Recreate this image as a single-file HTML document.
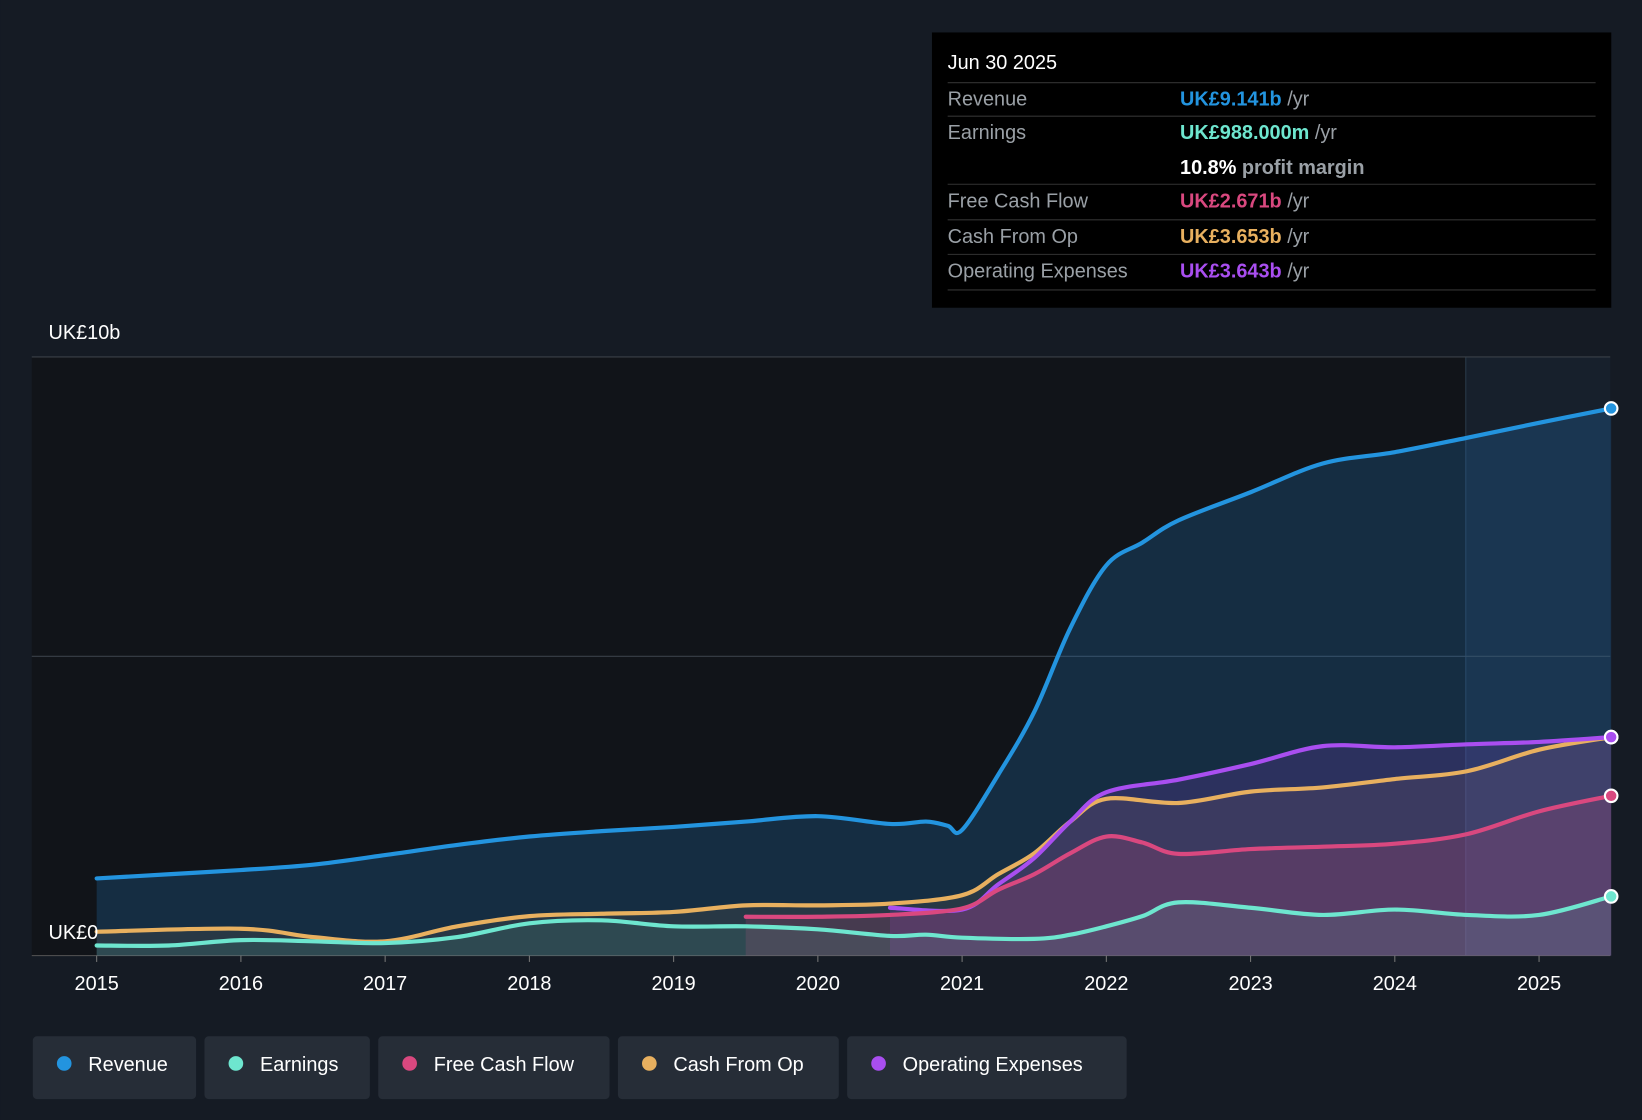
<!DOCTYPE html>
<html><head><meta charset="utf-8"><style>
html,body{margin:0;padding:0;background:#151b24;}
svg{display:block;font-family:"Liberation Sans",Roboto,sans-serif;}
</style></head><body>
<svg id="chart" width="1642" height="1120" viewBox="0 0 1568 1070">
<rect x="0" y="0" width="1568" height="1070" fill="#151b24"/>
<rect x="30" y="341" width="1370" height="572" fill="#111419"/>
<rect x="1400" y="341" width="138" height="572" fill="#17202c"/>
<line x1="1400" y1="341" x2="1400" y2="913" stroke="#2a3a4a" stroke-width="1"/>
<g id="grid"></g>
<g id="areas"></g>
<g id="lines"></g>
<g id="xaxis"></g>
<text x="46" y="324" fill="#fff" font-size="19">UK£10b</text>
<text x="46" y="897" fill="#fff" font-size="19">UK£0</text>
<g>
<rect x="890" y="31" width="649" height="263" fill="#000"/>
<text x="905" y="66" fill="#fff" font-size="19">Jun 30 2025</text>
<line x1="905" y1="79" x2="1524" y2="79" stroke="#333"/>
<text x="905" y="101" fill="#9aa0a6" font-size="19">Revenue</text>
<text x="1127" y="101" font-size="19" font-weight="bold" fill="#2394df">UK£9.141b <tspan fill="#9aa0a6" font-weight="normal">/yr</tspan></text>
<line x1="905" y1="111" x2="1524" y2="111" stroke="#333"/>
<text x="905" y="133" fill="#9aa0a6" font-size="19">Earnings</text>
<text x="1127" y="133" font-size="19" font-weight="bold" fill="#6ee6cf">UK£988.000m <tspan fill="#9aa0a6" font-weight="normal">/yr</tspan></text>
<text x="1127" y="166" font-size="19" font-weight="bold" fill="#fff">10.8% <tspan fill="#9aa0a6">profit margin</tspan></text>
<line x1="905" y1="176" x2="1524" y2="176" stroke="#333"/>
<text x="905" y="198" fill="#9aa0a6" font-size="19">Free Cash Flow</text>
<text x="1127" y="198" font-size="19" font-weight="bold" fill="#d9487f">UK£2.671b <tspan fill="#9aa0a6" font-weight="normal">/yr</tspan></text>
<line x1="905" y1="210" x2="1524" y2="210" stroke="#333"/>
<text x="905" y="232" fill="#9aa0a6" font-size="19">Cash From Op</text>
<text x="1127" y="232" font-size="19" font-weight="bold" fill="#e8b05f">UK£3.653b <tspan fill="#9aa0a6" font-weight="normal">/yr</tspan></text>
<line x1="905" y1="243" x2="1524" y2="243" stroke="#333"/>
<text x="905" y="265" fill="#9aa0a6" font-size="19">Operating Expenses</text>
<text x="1127" y="265" font-size="19" font-weight="bold" fill="#a94ef0">UK£3.643b <tspan fill="#9aa0a6" font-weight="normal">/yr</tspan></text>
<line x1="905" y1="277" x2="1524" y2="277" stroke="#333"/>
</g>
<g id="legend"></g>
</svg>
<script>
const years=[2015,2016,2017,2018,2019,2020,2021,2022,2023,2024,2025];
const revT=[2015,2015.5,2016,2016.5,2017,2017.5,2018,2018.5,2019,2019.5,2020,2020.5,2020.75,2020.9,2021,2021.25,2021.5,2021.75,2022,2022.25,2022.5,2023,2023.5,2024,2024.5,2025,2025.5];
const revV=[1.29,1.36,1.43,1.52,1.68,1.85,1.99,2.08,2.15,2.24,2.33,2.2,2.24,2.17,2.1,3.02,4.07,5.47,6.52,6.9,7.27,7.74,8.22,8.41,8.65,8.9,9.14];
const earnT=[2015,2015.5,2016,2016.5,2017,2017.5,2018,2018.5,2019,2019.5,2020,2020.5,2020.75,2021,2021.5,2021.75,2022,2022.25,2022.5,2023,2023.5,2024,2024.5,2025,2025.5];
const earnV=[0.17,0.17,0.26,0.24,0.21,0.31,0.54,0.59,0.49,0.49,0.44,0.33,0.35,0.3,0.28,0.35,0.49,0.66,0.89,0.8,0.68,0.77,0.68,0.68,0.99];
const cfoT=[2015,2016,2016.5,2017,2017.5,2018,2018.5,2019,2019.5,2020,2020.5,2021,2021.25,2021.5,2021.75,2022,2022.5,2023,2023.5,2024,2024.5,2025,2025.5];
const cfoV=[0.4,0.45,0.31,0.24,0.49,0.66,0.7,0.73,0.84,0.84,0.87,1.01,1.36,1.71,2.24,2.62,2.55,2.74,2.81,2.95,3.08,3.44,3.65];
const fcfT=[2019.5,2020,2020.5,2021,2021.25,2021.5,2021.75,2022,2022.25,2022.5,2023,2023.5,2024,2024.5,2025,2025.5];
const fcfV=[0.65,0.65,0.68,0.79,1.1,1.36,1.71,1.99,1.89,1.7,1.78,1.82,1.87,2.03,2.41,2.67];
const opxT=[2020.5,2021,2021.25,2021.5,2021.75,2022,2022.5,2023,2023.5,2024,2024.5,2025,2025.5];
const opxV=[0.8,0.77,1.19,1.63,2.24,2.73,2.94,3.2,3.5,3.48,3.53,3.57,3.65];
const yTicks=[0,5,10];
const legendLabels=["Revenue","Earnings","Free Cash Flow","Cash From Op","Operating Expenses"];
const legendColors=["#2394df","#6ee6cf","#d9487f","#e8b05f","#a94ef0"];

const NS="http://www.w3.org/2000/svg";
const X=t=>92+(t-2015)*137.8;
const Y=v=>913-v*57.2;
function mk(tag,attrs,parent){const e=document.createElementNS(NS,tag);for(const k in attrs)e.setAttribute(k,attrs[k]);parent.appendChild(e);return e;}
const grid=document.getElementById('grid');
yTicks.forEach(v=>{const l=mk('line',{x1:30,x2:1538,y1:Y(v),y2:Y(v),stroke:v==0?'#555':'#3a4048','stroke-width':1},grid);

});
const xa=document.getElementById('xaxis');
years.forEach(y=>{const t=mk('text',{x:X(y),y:946,fill:'#fff','font-size':19,'text-anchor':'middle'},xa);t.textContent=y;


const tk=mk('line',{x1:X(y),x2:X(y),y1:913,y2:919,stroke:'#777'},xa);

});
function pts(T,V){return T.map((t,i)=>[X(t),Y(V[i])]);}
function path(p){let d='M'+p[0][0]+','+p[0][1];for(let i=1;i<p.length;i++){const p0=p[i-2]||p[i-1],p1=p[i-1],p2=p[i],p3=p[i+1]||p[i];
const c1=[p1[0]+(p2[0]-p0[0])/6,p1[1]+(p2[1]-p0[1])/6],c2=[p2[0]-(p3[0]-p1[0])/6,p2[1]-(p3[1]-p1[1])/6];
d+=' C'+c1[0]+','+c1[1]+' '+c2[0]+','+c2[1]+' '+p2[0]+','+p2[1];}return d;}
const series=[
 ['revenue',revT,revV,'#2394df','rgba(35,120,190,0.25)'],
 ['cash-from-op',cfoT,cfoV,'#e8b05f','rgba(220,160,100,0.10)'],
 ['operating-expenses',opxT,opxV,'#a94ef0','rgba(150,70,220,0.18)'],
 ['free-cash-flow',fcfT,fcfV,'#d9487f','rgba(210,70,130,0.18)'],
 ['earnings',earnT,earnV,'#6ee6cf','rgba(110,230,200,0.10)']];
const ag=document.getElementById('areas'),lg=document.getElementById('lines');
series.forEach(([n,T,V,c,f])=>{const p=pts(T,V);const d=path(p);
const a=mk('path',{d:d+' L'+p[p.length-1][0]+',913 L'+p[0][0]+',913 Z',fill:f},ag);


const l=mk('path',{d:d,fill:'none',stroke:c,'stroke-width':4,'stroke-linecap':'round'},lg);


const e=p[p.length-1];const dot=mk('circle',{cx:e[0],cy:e[1],r:6,fill:c,stroke:'#fff','stroke-width':2},lg);

});
const leg=document.getElementById('legend');
const widths=[156,158,221,211,267];let lx=31;
legendLabels.forEach((s,i)=>{const g=mk('g',{},leg);


mk('rect',{x:lx,y:990,width:widths[i],height:60,rx:4,fill:'#262d37'},g);
mk('circle',{cx:lx+30,cy:1016,r:7,fill:legendColors[i]},g);
const t=mk('text',{x:lx+53,y:1023,fill:'#fff','font-size':19},g);t.textContent=s;
lx+=widths[i]+8;});
</script>
</body></html>
